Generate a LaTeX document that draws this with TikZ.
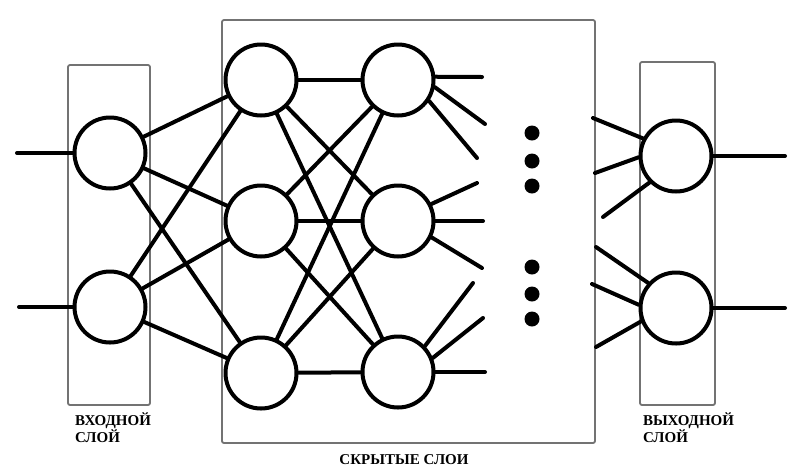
\documentclass[tikz,border=0pt]{standalone}
\usepackage{fontspec}
\setmainfont{Liberation Serif}

\tikzset{every picture/.style={line width=4pt}}
\tikzset{
  neuron/.style={circle, draw=black, fill=white, line width=4pt, minimum size=71pt, inner sep=0pt},
  layerbox/.style={draw=black!55, line width=1.8pt, rounded corners=2pt},
  link/.style={line width=4pt, line cap=round},
  gapdot/.style={circle, fill=black, minimum size=15pt, inner sep=0pt},
  caption/.style={inner sep=0pt, align=left, font=\bfseries\fontsize{15}{15.5}\selectfont},
}

\begin{document}
\begin{tikzpicture}[x=1pt,y=1pt,yscale=-1,xscale=1]
\useasboundingbox (0,0) rectangle (797,475);

%Layer boxes
\draw [layerbox] (68,65) rectangle (150,405);
\draw [layerbox] (222,20) rectangle (595,443);
\draw [layerbox] (640,62) rectangle (715,405);

%Neurons
\node [neuron] (in1) at (110,153) {};
\node [neuron] (in2) at (110,307) {};
\node [neuron] (ha1) at (261,80) {};
\node [neuron] (ha2) at (261,221) {};
\node [neuron] (ha3) at (261,373) {};
\node [neuron] (hb1) at (398,80) {};
\node [neuron] (hb2) at (398,221) {};
\node [neuron] (hb3) at (398,372) {};
\node [neuron] (out1) at (676,156) {};
\node [neuron] (out2) at (676,308) {};

%Free ends
\coordinate (x1) at (17,153);
\coordinate (x2) at (19,307);
\coordinate (y1) at (785,156);
\coordinate (y2) at (785,308);
\coordinate (sa1) at (482,77);
\coordinate (sa2) at (485,124);
\coordinate (sa3) at (477,158);
\coordinate (sb1) at (477,183);
\coordinate (sb2) at (483,221);
\coordinate (sb3) at (482,268);
\coordinate (sc1) at (473,283);
\coordinate (sc2) at (483,318);
\coordinate (sc3) at (485,372);
\coordinate (ta1) at (593,118);
\coordinate (ta2) at (595,173);
\coordinate (ta3) at (603,217);
\coordinate (tb1) at (596,247);
\coordinate (tb2) at (592,284);
\coordinate (tb3) at (596,347);

%Connections
\foreach \i in {1,2}
  \foreach \j in {1,2,3}
    \draw [link] (in\i) -- (ha\j);
\foreach \i in {1,2,3}
  \foreach \j in {1,2,3}
    \draw [link] (ha\i) -- (hb\j);

%Inputs and outputs
\draw [link] (x1) -- (in1.west);
\draw [link] (x2) -- (in2.west);
\draw [link] (out1.east) -- (y1);
\draw [link] (out2.east) -- (y2);

%Stubs
\draw [link] (hb1.5) -- (sa1);
\draw [link] (hb1.-11) -- (sa2);
\draw [link] (hb1.-34) -- (sa3);
\draw [link] (hb2.27) -- (sb1);
\draw [link] (hb2.east) -- (sb2);
\draw [link] (hb2.-26) -- (sb3);
\draw [link] (hb3.44) -- (sc1);
\draw [link] (hb3.22) -- (sc2);
\draw [link] (hb3.east) -- (sc3);
\draw [link] (ta1) -- (out1.152);
\draw [link] (ta2) -- (out1.182);
\draw [link] (ta3) -- (out1.225);
\draw [link] (tb1) -- (out2.138);
\draw [link] (tb2) -- (out2.175);
\draw [link] (tb3) -- (out2.201);

%Dots
\foreach \y [count=\k] in {133,161,186,267,294,319}
  \node [gapdot] (gap\k) at (532,\y) {};

% Text Node
\node [caption, anchor=north west] (inlabel) at (73,411) {ВХОДНОЙ\\СЛОЙ};
% Text Node
\node [caption, anchor=north west] (outlabel) at (641,411) {ВЫХОДНОЙ\\СЛОЙ};
% Text Node
\node [caption, anchor=north] (hidlabel) at (404,453) {СКРЫТЫЕ СЛОИ};
\end{tikzpicture}
\end{document}
